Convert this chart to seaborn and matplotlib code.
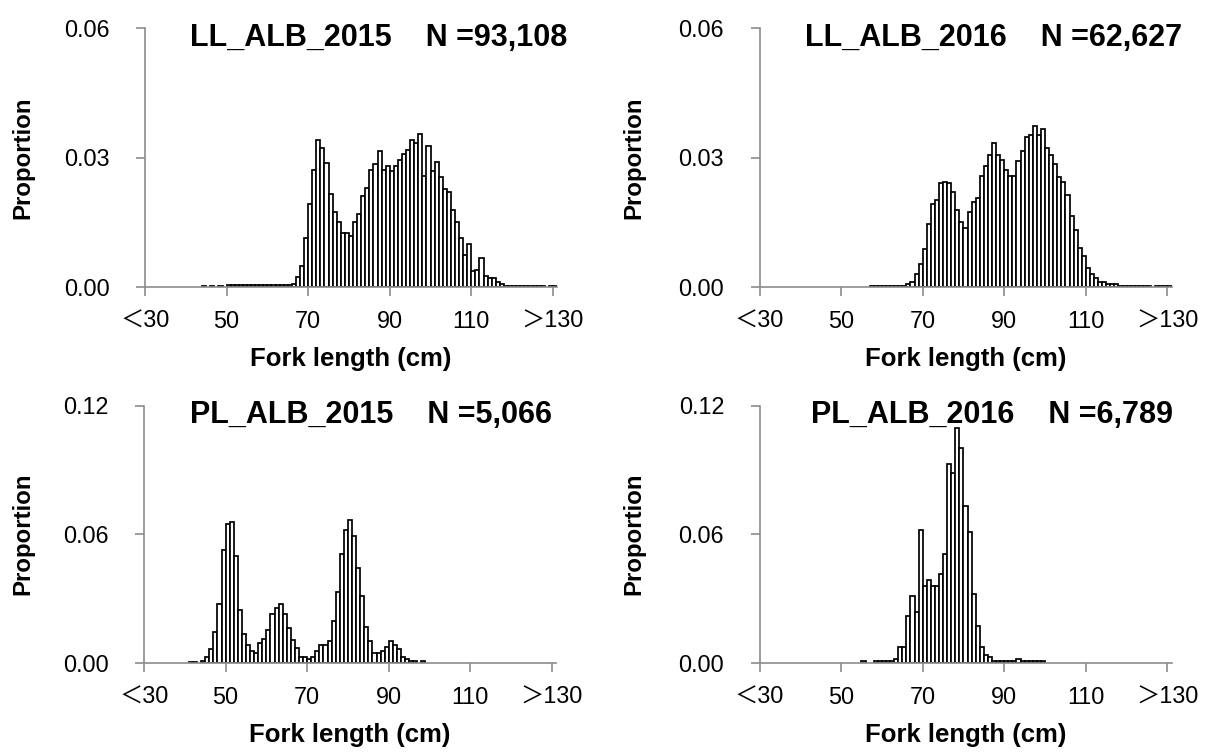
import numpy as np
import pandas as pd
import matplotlib
matplotlib.use("Agg")
import matplotlib.pyplot as plt
import seaborn as sns

# proportions per 1 cm fork-length class, first value is the class given by *_start
ll15_start = 44
ll15_prop = [0.0003, 0, 0.0003, 0, 0.0003, 0,
             0.0004, 0.0004, 0.0004, 0.0004, 0.0004, 0.0004, 0.0004, 0.0004,
             0.0004, 0.0004, 0.0004, 0.0004, 0.0004, 0.0004, 0.0004, 0.0004,
             0.0006, 0.0023, 0.0049, 0.0114, 0.0193, 0.0271, 0.0341, 0.0321,
             0.0288, 0.0216, 0.0174, 0.0151, 0.0124, 0.0124, 0.0119, 0.0151,
             0.0170, 0.0211, 0.0230, 0.0272, 0.0286, 0.0314, 0.0271, 0.0281,
             0.0268, 0.0281, 0.0295, 0.0308, 0.0318, 0.0341, 0.0333, 0.0355,
             0.0257, 0.0327, 0.0268, 0.0290, 0.0254, 0.0226, 0.0221, 0.0179,
             0.0151, 0.0114, 0.0073, 0.0100, 0.0036, 0.0040, 0.0068, 0.0026,
             0.0022, 0.0022, 0.0012, 0.0008,
             0.0003, 0.0003, 0.0003, 0.0003, 0.0003, 0.0003, 0.0003, 0.0003,
             0.0003, 0.0003, 0, 0.0003, 0.0003]

ll16_start = 57
ll16_prop = [0.0003, 0.0003, 0.0003, 0.0003, 0.0003, 0.0003, 0.0003, 0.0003, 0.0003,
             0.0008, 0.0012, 0.0031, 0.0054, 0.0087, 0.0147, 0.0193, 0.0202,
             0.0240, 0.0244, 0.0240, 0.0221, 0.0179, 0.0151, 0.0137, 0.0174,
             0.0198, 0.0207, 0.0258, 0.0281, 0.0305, 0.0333, 0.0305, 0.0295,
             0.0272, 0.0258, 0.0258, 0.0291, 0.0314, 0.0347, 0.0351, 0.0374,
             0.0351, 0.0365, 0.0323, 0.0305, 0.0286, 0.0254, 0.0244, 0.0212,
             0.0165, 0.0133, 0.0091, 0.0072, 0.0044, 0.0031, 0.0022, 0.0012,
             0.0012, 0.0008, 0.0008, 0.0008,
             0.0003, 0.0003, 0.0003, 0.0003, 0.0003, 0.0003, 0.0003, 0.0003,
             0, 0.0003, 0.0003, 0.0003, 0.0003]

pl15_start = 41
pl15_prop = [0.0004, 0.0004, 0, 0.0007, 0.0025, 0.0062, 0.0145, 0.0276,
             0.0526, 0.0646, 0.0655, 0.0498, 0.0248, 0.0135, 0.0084, 0.0056,
             0.0047, 0.0090, 0.0109, 0.0154, 0.0229, 0.0257, 0.0276, 0.0229,
             0.0163, 0.0107, 0.0070, 0.0025, 0.0025, 0.0016, 0.0025, 0.0053,
             0.0081, 0.0081, 0.0100, 0.0193, 0.0332, 0.0508, 0.0618, 0.0665,
             0.0590, 0.0442, 0.0313, 0.0167, 0.0101, 0.0045, 0.0045, 0.0055,
             0.0073, 0.0101, 0.0083, 0.0064, 0.0027, 0.0017, 0.0007, 0.0007,
             0, 0.0007]

pl16_start = 55
pl16_prop = [0.0008, 0, 0, 0.0008, 0.0008, 0.0008, 0.0008, 0.0008, 0.0017,
             0.0073, 0.0073, 0.0219, 0.0313, 0.0238, 0.0621, 0.0360, 0.0388,
             0.0360, 0.0360, 0.0416, 0.0509, 0.0929, 0.0883, 0.1096, 0.1003,
             0.0733, 0.0610, 0.0322, 0.0173, 0.0072, 0.0037, 0.0028, 0.0009,
             0.0009, 0.0009, 0.0009, 0.0009, 0.0009, 0.0019, 0.0009, 0.0009,
             0.0009, 0.0009, 0.0009, 0.0009]

xtick_vals = [30, 50, 70, 90, 110, 130]
xtick_labels = ["＜30", "50", "70", "90", "110", "＞130"]

sns.set_style("white")
plt.rcParams["font.family"] = ["Liberation Sans", "Noto Sans CJK JP", "DejaVu Sans"]
plt.rcParams["text.color"] = "black"

W, H = 1213, 752
fig = plt.figure(figsize=(W / 100, H / 100), dpi=100)
grey = "#8c8c8c"


def panel(left, top, bottom, start, props, title, title_xy, ymax, yticks, ylab_x):
    axw = 412
    ax = fig.add_axes([left / W, 1 - bottom / H, axw / W, (bottom - top) / H])
    df = pd.DataFrame({"length": np.arange(start, start + len(props)), "prop": props})
    # 1 cm classes, class c spans [c, c+1)
    sns.histplot(data=df, x="length", weights="prop", bins=101, binrange=(30, 131),
                 stat="count", color="white", edgecolor="black", linewidth=1.25,
                 alpha=1, ax=ax)
    for p in ax.patches:
        if p.get_height() == 0:
            p.set_visible(False)
    ax.set_xlim(30, 131)
    ax.set_ylim(0, ymax)
    ax.set_xticks(xtick_vals)
    ax.set_xticklabels(xtick_labels)
    ax.set_yticks(yticks)
    ax.set_yticklabels([f"{v:.2f}" for v in yticks])
    for s in ["top", "right"]:
        ax.spines[s].set_visible(False)
    for s in ["left", "bottom"]:
        ax.spines[s].set_color(grey)
        ax.spines[s].set_linewidth(1.2)
    ax.tick_params(axis="both", direction="out", length=6.5, width=1.2, color=grey,
                   labelsize=16.8, labelcolor="black", bottom=True, left=True)
    ax.tick_params(axis="y", pad=19)
    ax.tick_params(axis="x", pad=10)
    ax.set_ylabel("")
    ax.set_xlabel("")
    h = bottom - top
    ax.text((title_xy[0] - left) / axw, (bottom - title_xy[1]) / h, title,
            transform=ax.transAxes, ha="left", va="baseline",
            fontsize=22, fontweight="bold", color="black")
    ax.text((ylab_x - left) / axw, 0.5, "Proportion", transform=ax.transAxes,
            rotation=90, ha="center", va="center", fontsize=17.3,
            fontweight="bold", color="black")
    ax.text(0.5, (bottom - (bottom + 79)) / h, "Fork length (cm)",
            transform=ax.transAxes, ha="center", va="baseline",
            fontsize=18.5, fontweight="bold", color="black")
    return ax


panel(145, 28, 287, ll15_start, ll15_prop, "LL_ALB_2015    N =93,108", (190, 46),
      0.06, [0, 0.03, 0.06], 23)
panel(759.5, 28, 287, ll16_start, ll16_prop, "LL_ALB_2016    N =62,627", (805, 46),
      0.06, [0, 0.03, 0.06], 634)
panel(144, 405.5, 662.7, pl15_start, pl15_prop, "PL_ALB_2015    N =5,066", (190, 423),
      0.12, [0, 0.06, 0.12], 23)
panel(759.5, 405.5, 662.7, pl16_start, pl16_prop, "PL_ALB_2016    N =6,789", (811, 423),
      0.12, [0, 0.06, 0.12], 634)

fig.savefig("out.png", dpi=100)
